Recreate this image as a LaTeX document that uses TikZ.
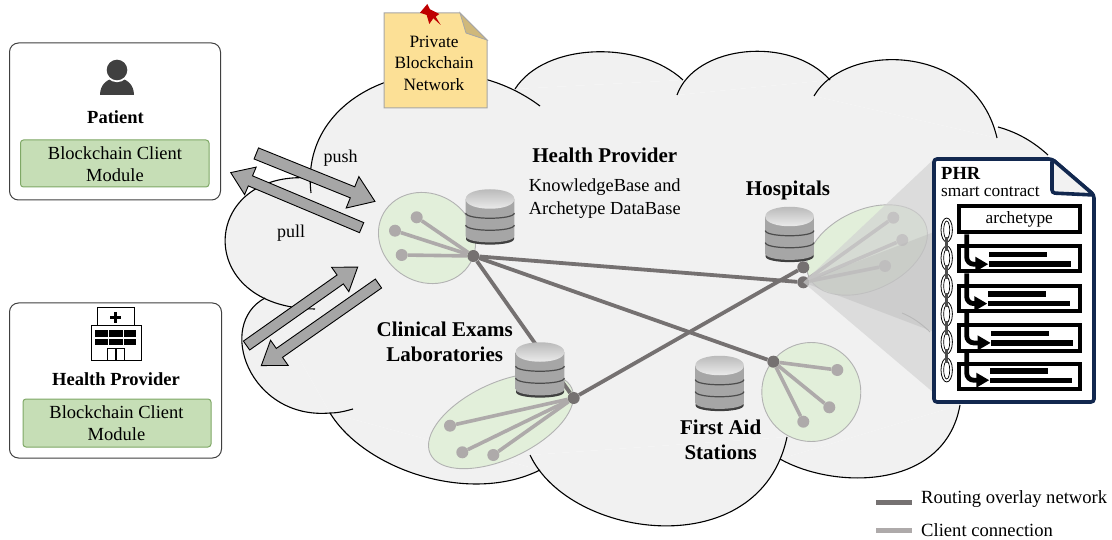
\documentclass[tikz,border=0pt]{standalone}
\usepackage{fontspec}
\setmainfont{Liberation Serif}
\usetikzlibrary{arrows.meta,shapes.arrows}
\definecolor{cloudgray}{HTML}{F1F1F1}
\definecolor{clustergreen}{HTML}{E2EFDA}
\definecolor{modulegreen}{HTML}{C6DEB6}
\definecolor{moduleline}{HTML}{7FA866}
\definecolor{notefill}{HTML}{FCE096}
\definecolor{routegray}{HTML}{757171}
\definecolor{clientgray}{HTML}{AEAAAA}
\definecolor{docblue}{HTML}{12284F}
\tikzset{
    txt/.style={font=\fontsize{17.3}{21.5}\selectfont,align=center,inner sep=0pt},
    modtxt/.style={font=\fontsize{18.5}{22}\selectfont,align=center,inner sep=0pt},
    txtb/.style={font=\fontsize{18.5}{22}\selectfont\bfseries,align=center,inner sep=0pt},
    head/.style={font=\fontsize{21}{25}\selectfont\bfseries,align=center,inner sep=0pt},
    actor/.style={draw=black!75,line width=1pt,rounded corners=9pt,fill=white},
    module/.style={draw=moduleline,line width=1pt,rounded corners=3pt,fill=modulegreen},
    cloudline/.style={draw=black,line width=1.1pt},
    cluster/.style={draw=black!30,line width=0.9pt,fill=clustergreen},
    routedot/.style={circle,fill=routegray,inner sep=0pt,minimum size=12pt},
    clientdot/.style={circle,fill=clientgray,inner sep=0pt,minimum size=12pt},
    routeline/.style={draw=routegray,line width=3.8pt},
    clientline/.style={draw=clientgray,line width=3.6pt},
    blockarrow/.style={shape=single arrow,draw=black,line width=0.9pt,fill=black!35,anchor=tip,
        inner xsep=0pt,single arrow tip angle=70},
    conefill/.style={fill=black!18,opacity=0.65},
    coneinner/.style={fill=black!28,opacity=0.4},
    rulebox/.style={draw=black,line width=4pt,fill=white,minimum width=121pt,minimum height=25.5pt,inner sep=0pt},
    rulebar/.style={fill=black,inner sep=0pt,minimum height=5.4pt,anchor=west},
    rulearrow/.style={draw=black,line width=4.8pt,rounded corners=7pt,-{Triangle[length=13pt,width=14pt]}},
    dbicon/.pic={
        \fill[black!75] (-24,20) -- (-24,22) .. controls (-24,29.5) and (24,29.5) .. (24,22) -- (24,20) -- cycle;
        \shade[left color=black!35,middle color=black!6,right color=black!35]
            (-24.3,-18) -- (-24.3,19) .. controls (-24.3,27.5) and (24.3,27.5) .. (24.3,19) -- (24.3,-18) -- cycle;
        \shade[top color=black!30,bottom color=black!5]
            (-24.3,-18) .. controls (-24.3,-31) and (24.3,-31) .. (24.3,-18)
            .. controls (24.3,-5) and (-24.3,-5) .. (-24.3,-18) -- cycle;
        \draw[black!70,line width=1.2pt] (-24.3,-4) .. controls (-24.3,3) and (24.3,3) .. (24.3,-4);
        \draw[black!70,line width=1.2pt] (-24.3,8) .. controls (-24.3,15) and (24.3,15) .. (24.3,8);
    },
}
\begin{document}
\begin{tikzpicture}[x=1pt,y=-1pt]
    \useasboundingbox (0,0) rectangle (1112,540);

    \def\lobes{310/178/200/170/192/308/315/309,
        311/193/298/85/445/35/540/106,
        515/89/545/42/640/40/683/80,
        677/95/695/45/790/35/830/80,
        814/96/845/42/975/42/997/138,
        998/127/1020/133/1036/144/1048/155,
        780/459/835/490/945/490/960/405,
        530/455/570/540/760/565/787/437,
        330/413/365/470/470/505/540/470,
        265/298/215/325/250/420/330/413,
        330/413/338/413/346/411/353/409}
    \fill[cloudgray] (311,193) -- (515,89) -- (683,80) -- (677,95) -- (830,80) -- (814,96) -- (997,138)
        -- (998,127) -- (1048,155) -- (1060,300) -- (960,405) -- (780,459) -- (787,437) -- (530,455)
        -- (540,470) -- (330,413) -- (265,298) -- cycle;
    \foreach \a/\b/\c/\d/\e/\f/\g/\h in \lobes {
        \fill[cloudgray] (\a,\b) .. controls (\c,\d) and (\e,\f) .. (\g,\h) -- cycle;
    }
    \foreach \a/\b/\c/\d/\e/\f/\g/\h in \lobes {
        \draw[cloudline] (\a,\b) .. controls (\c,\d) and (\e,\f) .. (\g,\h);
    }
    \draw[black!45,line width=0.9pt] (902,313) .. controls (912,317) and (922,324) .. (930,332);

    \draw[actor] (9.5,43) rectangle (220.5,200);
    \draw[module] (20.5,140) rectangle (209,187);
    \node[txtb] (patient) at (115.5,117) {Patient};
    \node[modtxt] (patientmod) at (115,164) {Blockchain Client\\Module};

    \fill[black!75] (100,95) .. controls (100,84) and (108,78) .. (117,78)
        .. controls (126,78) and (134,84) .. (134,95) -- cycle;
    \fill[white] (117,70) circle (12.2pt);
    \fill[black!75] (117,70) circle (10.3pt);

    \draw[actor] (9.5,303) rectangle (221.5,458);
    \draw[module] (23,399) rectangle (211,447);
    \node[txtb] (provider) at (116,379) {Health Provider};
    \node[modtxt] (providermod) at (116.5,423.5) {Blockchain Client\\Module};

    \draw[black,line width=1pt] (97,326) -- (97,308) -- (134,308) -- (134,326);
    \draw[black,line width=1pt] (91,326) rectangle (141,360);
    \draw[black,line width=3.6pt] (110,317.5) -- (121,317.5);
    \draw[black,line width=3.6pt] (115.5,312) -- (115.5,323);
    \foreach \x/\w in {95/13.3,109.3/13.4,124/12} {
        \fill[black] (\x,330) rectangle (\x+\w,337.3);
        \fill[black] (\x,339) rectangle (\x+\w,345.3);
    }
    \draw[black,line width=1pt] (107.3,360) -- (107.3,348.3) -- (124,348.3) -- (124,360);
    \draw[black,line width=2.4pt] (115.7,349) -- (115.7,360);

    \filldraw[cluster] (427,238) [rotate around={-30:(427,238)}] ellipse (50pt and 44pt);
    \filldraw[cluster] (501,421) [rotate around={25:(501,421)}] ellipse (78pt and 38pt);
    \filldraw[cluster] (811.3,392) circle (49.5pt);
    \filldraw[cluster] (867,250) [rotate around={25:(867,250)}] ellipse (64pt and 40pt);

    \node[routedot] (hub) at (473.3,256) {};
    \node[routedot] (labs) at (573.7,398) {};
    \node[routedot] (aid) at (773.3,361.7) {};
    \node[routedot] (hospa) at (803.3,267.3) {};
    \node[routedot] (hospb) at (803.3,282.3) {};

    \foreach \n/\x/\y/\r in {ha/416.7/217.3/hub,hb/395/230.7/hub,hc/401.7/255/hub,
        la/450/425.7/labs,lb/462.3/452.3/labs,lc/493.3/455/labs,
        fa/837.3/370/aid,fb/829.3/407.3/aid,fc/803.3/421.7/aid,
        pa/893.3/217.7/hospb,pb/902.3/240/hospb,pc/885/266/hospb} {
        \node[clientdot] (\n) at (\x,\y) {};
        \draw[clientline] (\r) -- (\n);
    }

    \draw[routeline] (hub) -- (hospb);
    \draw[routeline] (hub) -- (aid);
    \draw[routeline] (hub) -- (labs);
    \draw[routeline] (labs) -- (hospa);

    \pic at (490,217) {dbicon};
    \pic at (789.6,234.5) {dbicon};
    \pic at (540,370) {dbicon};
    \pic at (719.6,383.5) {dbicon};

    \node[head] (knowledge) at (604.8,155.7) {Health Provider};
    \node[font=\fontsize{18.4}{22.5}\selectfont,align=center,inner sep=0pt] (archdb) at (604.8,198.8)
        {KnowledgeBase and\\Archetype DataBase};
    \node[head] (hospitals) at (788,190) {Hospitals};
    \node[head] (clinical) at (444.7,341.5) {Clinical Exams\\Laboratories};
    \node[head] (firstaid) at (720.7,440) {First Aid\\Stations};

    \node[blockarrow,inner ysep=5.5pt,single arrow head extend=11pt,minimum height=128pt,rotate=-22] (push) at (375.7,201.7) {};
    \node[blockarrow,inner ysep=5pt,single arrow head extend=9.5pt,minimum height=142pt,rotate=157.2] (pull) at (230,172.3) {};
    \node[blockarrow,inner ysep=5pt,single arrow head extend=9.5pt,minimum height=136pt,rotate=35.2] (upload) at (358.3,266.7) {};
    \node[blockarrow,inner ysep=5pt,single arrow head extend=10pt,minimum height=143pt,rotate=215] (download) at (260.7,366) {};
    \node[font=\fontsize{18}{22}\selectfont,inner sep=0pt] (pushtxt) at (340.5,158.5) {push};
    \node[font=\fontsize{18}{22}\selectfont,inner sep=0pt] (pulltxt) at (291,233) {pull};

    \filldraw[draw=black!35,line width=1pt,fill=notefill] (384,13) -- (460,13) -- (487,40) -- (487,108) -- (384,108) -- cycle;
    \filldraw[draw=black!35,line width=0.8pt,fill=notefill!82!black] (460,13) -- (487,40) -- (466,33) -- cycle;
    \fill[red!75!black] (427.3,4) -- (420,12.7) -- (426.7,15) -- (429.3,24) -- (433.3,18.3) -- (440.7,25)
        -- (435.7,16.7) -- (439.3,14) -- (430,9.3) -- cycle;
    \node[txt] (note) at (434,63) {Private\\Blockchain\\Network};

    \fill[conefill] (hospb.center) -- (934,159) -- (934,393) -- cycle;
    \fill[coneinner] (hospb.center) -- (934,232) -- (934,332) -- cycle;

    \filldraw[draw=docblue,line width=3.6pt,fill=white,rounded corners=3pt]
        (934,159) -- (1052,159) -- (1094,195) -- (1094,402) -- (934,402) -- cycle;
    \filldraw[draw=docblue,line width=3.6pt,fill=black!5,rounded corners=3pt]
        (1052,159) -- (1052,193) -- (1094,195) -- cycle;
    \node[txtb,anchor=west] (phr) at (941,173) {PHR};
    \node[txt,anchor=west] (smart) at (941,192) {smart contract};

    \node[rulebox,minimum height=26.3pt] (archbox) at (1019.2,219.2) {};
    \node[txt] (archtxt) at (archbox) {archetype};

    \foreach \n/\cy/\bx/\ty in {ruleA/258.7/988.3/254.8,ruleB/298.3/987.3/294.2,ruleC/338/990.7/333.5,ruleD/376.3/989.3/370.8} {
        \node[rulebox] (\n) at (1019.2,\cy) {};
        \node[rulebar,minimum width=58pt] (\n top) at (\bx,\ty) {};
        \node[rulebar,minimum width=82pt] (\n low) at (\bx,\ty+9.4) {};
    }
    \draw[rulearrow] ([xshift=10pt]archbox.south west) |- (ruleAlow.west);
    \draw[rulearrow] ([xshift=10pt]ruleA.south west) |- (ruleBlow.west);
    \draw[rulearrow] ([xshift=10pt]ruleB.south west) |- (ruleClow.west);
    \draw[rulearrow] ([xshift=10pt]ruleC.south west) |- (ruleDlow.west);

    \foreach \y in {230,258,286,314,342,370} {
        \filldraw[draw=black,line width=0.8pt,fill=white] (946.7,\y) ellipse (5.7pt and 12pt);
        \draw[black,line width=0.7pt] (946.7,\y) ellipse (3pt and 9pt);
    }
    \foreach \y in {244,272,300,328,356} {
        \draw[black!70,line width=3pt] (946.7,\y-7) -- (946.7,\y+7);
    }

    \draw[routeline,line width=4.5pt] (876,502.3) -- (911.7,502.3);
    \draw[clientline,line width=4.5pt] (876,530.7) -- (911.7,530.7);
    \node[font=\fontsize{18.6}{22}\selectfont,inner sep=0pt,anchor=west] (routingtxt) at (921,499) {Routing overlay network};
    \node[font=\fontsize{18.6}{22}\selectfont,inner sep=0pt,anchor=west] (clienttxt) at (921,530) {Client connection};
\end{tikzpicture}
\end{document}
